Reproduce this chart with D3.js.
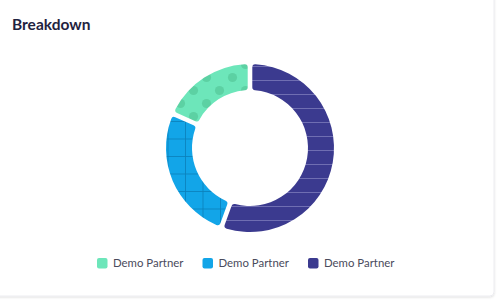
<!DOCTYPE html>
<html><head><meta charset="utf-8">
<script src="https://cdn.jsdelivr.net/npm/d3@7"></script>
<style>
html,body{margin:0;padding:0;background:#fff;}
body{width:500px;height:300px;overflow:hidden;}
</style></head><body>
<svg id="c" width="500" height="300"></svg>
<script>
const labels = ["Demo Partner", "Demo Partner", "Demo Partner"];
const values = [18, 26, 56];
const colors = ["#6de6ba", "#12a5e8", "#3b3a8f"];
const patternIds = ["dots", "grid", "lines"];
const title = "Breakdown";

const svg = d3.select("#c");
const defs = svg.append("defs");
const f = defs.append("filter").attr("id","sh").attr("x","-5%").attr("y","-5%").attr("width","110%").attr("height","110%");
f.append("feDropShadow").attr("dx",0).attr("dy",1).attr("stdDeviation",1.2).attr("flood-color","#000").attr("flood-opacity",0.12);

// card
svg.append("rect").attr("x",-6).attr("y",-6).attr("width",500).attr("height",302).attr("rx",4)
  .attr("fill","#fff").attr("stroke","#ececf0").attr("stroke-width",1).attr("filter","url(#sh)");

// patterns
const dotFill = "#5cd1a3";
const pDots = defs.append("pattern").attr("id","dots").attr("patternUnits","userSpaceOnUse")
  .attr("width",26).attr("height",26).attr("x",2).attr("y",1);
pDots.append("rect").attr("width",26).attr("height",26).attr("fill",colors[0]);
[[6.5,6.5],[19.5,19.5],[-6.5,19.5],[32.5,19.5],[19.5,-6.5],[6.5,32.5]].forEach(([x,y])=>pDots.append("circle").attr("cx",x).attr("cy",y).attr("r",4.6).attr("fill",dotFill));

const pGrid = defs.append("pattern").attr("id","grid").attr("patternUnits","userSpaceOnUse")
  .attr("width",17.5).attr("height",17.5).attr("x",5).attr("y",8);
pGrid.append("rect").attr("width",17.5).attr("height",17.5).attr("fill",colors[1]);
pGrid.append("path").attr("d","M0,0.4H17.5M0.4,0V17.5").attr("stroke","#0a7fb8").attr("stroke-width",0.9).attr("fill","none");

const pLines = defs.append("pattern").attr("id","lines").attr("patternUnits","userSpaceOnUse")
  .attr("width",20).attr("height",14).attr("x",0).attr("y",2);
pLines.append("rect").attr("width",20).attr("height",14).attr("fill",colors[2]);
pLines.append("path").attr("d","M0,0.5H20").attr("stroke","#7574b5").attr("stroke-width",0.9);

// donut
const cx = 250, cy = 148, rOuter = 84, rInner = 58;
const data = labels.map((l,i)=>({label:l, value:values[i], i}));
const pie = d3.pie().value(d=>d.value).sort((a,b)=>d3.descending(a.value,b.value)).padAngle(0.045);
const arc = d3.arc().innerRadius(rInner).outerRadius(rOuter).cornerRadius(3);
const g = svg.append("g").attr("transform",`translate(${cx},${cy})`);
g.selectAll("path").data(pie(data)).join("path")
  .attr("d",arc)
  .attr("fill",d=>`url(#${patternIds[d.data.i]})`);

// title
svg.append("text").attr("x",12).attr("y",30).text(title)
  .attr("font-family","Lato, 'Open Sans', sans-serif").attr("font-weight",700)
  .attr("font-size",15.5).attr("fill","#1f2340");

// legend
const lx = d3.scalePoint().domain(d3.range(labels.length)).range([97,308]);
const lg = svg.append("g").selectAll("g").data(data).join("g")
  .attr("transform",d=>`translate(${lx(d.i)},258)`);
lg.append("rect").attr("width",10.5).attr("height",10.5).attr("rx",2).attr("fill",d=>colors[d.i]);
lg.append("text").attr("x",16).attr("y",9).text(d=>d.label)
  .attr("font-family","Lato, 'Open Sans', sans-serif").attr("font-size",11.4).attr("fill","#4a4b5c");
</script>
</body></html>
